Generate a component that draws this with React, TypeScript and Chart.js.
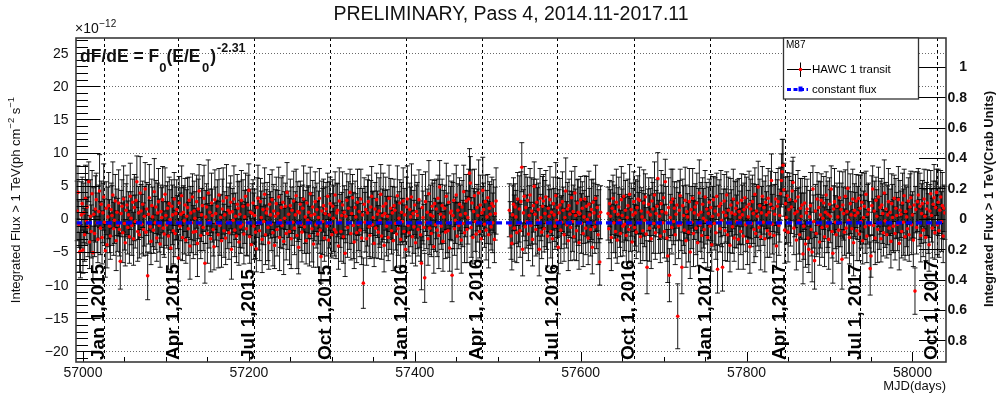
import { useEffect, useRef } from "react";
import { Chart, registerables } from "chart.js";
Chart.register(...registerables);

const FONT = '"Liberation Sans", Arial, Helvetica, sans-serif';

// axis ranges (flux in units of 1e-12 ph cm^-2 s^-1)
const X_MIN = 56991.6;
const X_MAX = 58040.4;
const Y_MIN = -21.6;
const Y_MAX = 27.3;
const CRAB_FLUX = 22.94; // 1 Crab unit in 1e-12 units

const titleText = "PRELIMINARY, Pass 4, 2014.11-2017.11";
const xTicks = [57000, 57200, 57400, 57600, 57800, 58000];
const yTicks = [-20, -15, -10, -5, 0, 5, 10, 15, 20, 25];
const crabTicks = [-0.8, -0.6, -0.4, -0.2, 0, 0.2, 0.4, 0.6, 0.8, 1];

const dateMjd = [57025, 57115, 57206, 57298, 57390, 57481, 57572, 57664, 57756, 57846, 57937, 58029];
const dateLabels = [
  "Jan 1,2015", "Apr 1,2015", "Jul 1,2015", "Oct 1,2015",
  "Jan 1,2016", "Apr 1, 2016", "Jul 1, 2016", "Oct 1, 2016",
  "Jan 1,2017", "Apr 1,2017", "Jul 1, 2017", "Oct 1, 2017",
];

const constantFlux = -0.6;

// ---- daily transits, segment A (first MJD 56993) ----
const startA = 56993;
const fluxA = [
  1.2, 4.0, -0.8, -5.0, -4.9, 0.6, 2.3, -4.7, 0.9, -2.4, 3.1, -0.3, 1.8, -1.2, 5.6, -3.5, 0.4, -1.9, 3.8, -5.1,
  0.7, -2.2, 1.5, 2.9, -0.6, -3.1, 1.1, 4.2, -1.4, 2.2, -2.8, 0.9, 3.3, -0.5, -4.8, 1.6, -3.9, 0.3, 2.0, -1.1,
  -2.6, 1.4, 0.5, 3.6, -1.5, -0.2, 2.7, -3.3, 1.0, -0.9, 2.4, -1.6, -6.4, 0.8, 1.9, -2.1, 3.0, -0.7, -3.6, 1.3,
  2.1, -1.3, 0.6, -2.7, 3.4, 0.1, -1.0, 2.5, -3.0, 1.7, -0.4, 2.8, 5.6, -1.9, 0.9, -2.4, 3.9, 1.2, -0.8, 2.2,
  -1.6, 0.4, 4.5, -2.0, 1.5, -8.6, 0.7, 3.2, -1.2, -3.4, 2.0, 0.3, -1.7, 4.1, -0.6, 1.8, -2.9, 0.9, 2.6, -1.0,
  -3.8, 1.1, 0.2, 2.9, -1.4, -2.3, 3.7, 0.5, -0.9, 1.6, -2.6, 2.3, -0.1, -4.4, 1.9, 0.6, -1.8, 3.0, -2.2, 0.8,
  1.4, -0.5, -5.9, 2.4, -1.1, 0.7, 3.5, -2.8, 1.0, -0.3, 2.1, -3.2, 0.4, 1.7, -1.5, 2.8, -4.1, 0.9, -0.6, 3.3,
  -2.0, 1.2, 0.1, -1.9, 2.6, -3.7, 1.5, 4.2, -0.8, -2.5, 0.6, 2.0, -1.3, 3.1, -6.7, 0.3, 1.8, -2.2, 3.9, -0.4,
  1.0, -3.0, 2.4, 0.5, -1.6, -4.2, 2.9, 0.8, -0.7, 1.9, -2.4, 3.6, -1.0, 0.2, -3.3, 1.5, 2.7, -1.8, 0.6, -2.9,
  3.2, -0.5, 1.3, -2.1, 0.9, 2.5, -4.6, 1.1, -0.2, 3.0, -1.7, 0.4, -2.6, 2.2, 1.6, -3.5, 0.7, -1.2, 2.8, -0.9,
  1.9, -2.3, 0.3, 3.4, -1.5, -0.6, 2.1, 4.3, -2.7, 1.0, -3.9, 0.8, 2.4, -1.1, 0.5, -2.0, -4.5, 1.7, 3.1, -0.7,
  -1.8, 2.6, 0.2, -3.1, 1.4, -0.4, 3.7, -2.4, 0.9, 1.5, -1.3, -3.6, 2.2, 0.6, -0.8, 2.9, -2.1, 1.2, -4.0, 0.4,
  2.3, -1.6, 0.8, 3.3, -2.8, -0.3, 1.7, -1.0, 2.5, -3.4, 0.1, 1.9, -2.2, 4.0, -0.6, 0.7, -1.9, 2.0, -3.0, 1.3,
  -0.5, 2.7, -1.4, 0.6, 3.5, -2.5, 1.1, -4.3, 0.9, 2.2, -0.8, -2.0, 1.6, 3.0, -1.2, 0.3, -3.3, 2.4, -0.2, 1.0,
  -2.6, 3.8, 0.5, -1.5, 1.8, -3.8, 0.7, 2.6, -0.9, 1.4, -2.3, 0.2, 3.1, -1.7, -5.7, 1.2, -0.4, 2.0, -2.9, 0.8,
  1.5, -1.1, 3.4, -3.2, 0.6, 2.3, -0.7, -2.4, 1.9, 0.1, -1.6, 3.6, -2.0, 0.9, 1.3, -4.1, 2.7, -0.3, -1.9, 0.5,
  2.1, -2.7, 1.0, -5.2, 0.4, 2.8, -1.3, 1.6, -0.6, 4.0, -2.2, 0.8, 3.2, -1.0, -3.5, 1.7, 0.3, -2.1, 2.5, -0.8,
  1.1, -1.7, 3.0, -2.9, 0.6, -9.7, 2.2, -0.5, 1.4, -3.0, 0.9, 2.6, -1.2, -2.5, 1.8, 3.4, -0.9, 0.2, -3.7, 1.5,
  -1.4, 2.9, 0.7, -2.0, 1.2, -0.3, 3.7, -2.6, 0.5, 1.9, -4.0, 0.8, 2.3, -1.1, 0.4, -2.8, 3.1, -0.6, 1.6, -1.8,
  0.9, -3.3, 2.0, 1.3, -0.7, -2.3, 3.5, -1.5, 0.1, 2.4, -3.1, 1.0, -0.4, 2.7, -1.9, 0.6, -4.6, 1.8, 3.0, -1.0,
  -2.1, 1.4, 0.3, 3.3, -2.7, 0.8, -1.2, 2.1, -3.6, 1.1, 0.5, -1.6, 2.9, -0.8, -2.4, -6.7, 1.7, 0.2, -1.3, -8.9,
  2.6, -0.5, 1.0, -3.0, 3.8, -1.4, 0.6, -2.2, 1.9, 0.4, -4.2, 2.3, -0.9, 1.5, -1.7, 3.1, -2.5, 4.8, 0.7, -1.1,
  2.0, -3.4, 0.3, 1.6, -2.0, 3.4, -0.6, -1.8, 2.5, -4.4, 0.9, 1.2, -8.5, 0.5, 2.8, -1.5, -0.2, 3.6, -2.6, 1.3,
  -1.0, 2.2, 0.6, -3.2, 1.8, -0.7, 4.1, -2.1, 0.8, 2.7, -1.6, 0.2, 3.0, 6.9, 5.4, -1.3, 2.4, -2.8, 1.1, 3.5,
  -0.4, -2.3, 1.7, 0.5, 3.9, -1.9, 2.1, -3.0, 0.9, 4.3, 1.4, -0.8, 2.6, -1.7, 0.3, 3.2, -2.4, 1.6, 0.7, -1.2,
  2.3, -0.6, 1.9, -3.1, 0.8, 2.7,
];
const errA = [
  4.5, 4, 3.5, 3, 4, 5, 4, 3.5, 4.5, 4, 5, 3.5, 4, 4.5, 3, 4, 5.5, 4, 3.5, 4,
  4, 3.5, 5, 4, 4.5, 3.5, 4, 5.5, 4, 3.5, 4, 4.5, 5, 3.5, 4, 4, 3.5, 4.5, 5, 4,
  3.5, 4, 4.5, 5, 4, 3.5, 4, 4.5, 3.5, 4, 5, 4, 4.2, 3.5, 4, 4.5, 5, 4, 3.5, 4,
  4.5, 4, 3.5, 4, 5, 4, 4.5, 3.5, 4, 5, 4, 3.5, 3.9, 4.5, 4, 3.5, 5.5, 4, 4.5, 3.5,
  4, 4.5, 4, 3.5, 4, 3.6, 4.5, 5, 4, 3.5, 4, 4.5, 3.5, 5, 4, 4, 3.5, 4.5, 5, 4,
  3.5, 4, 4.5, 5, 4, 3.5, 4, 4.5, 3.5, 4, 5, 4, 4.5, 3.5, 4, 4.5, 5, 4, 3.5, 4,
  4.5, 4, 3.5, 4, 5, 4, 4.5, 3.5, 4, 5, 4, 3.5, 4, 4.5, 4, 3.5, 5, 4, 4.5, 3.5,
  4, 4.5, 4, 3.5, 4, 5, 4.5, 4, 4, 3.5, 4, 4.5, 3.5, 5, 3, 4, 3.5, 4.5, 5, 4,
  3.5, 5, 4.5, 4, 4, 3.5, 4.5, 4, 3.5, 4, 5, 4, 4.5, 3.5, 4, 4.5, 5, 4, 3.5, 4,
  5, 4, 3.5, 4, 4.5, 4, 4.5, 3.5, 4, 5, 4, 3.5, 4, 4.5, 4, 3.5, 5, 4, 4.5, 3.5,
  4, 4.5, 4, 3.5, 4, 5, 4.5, 4, 4, 3.5, 4, 4.5, 3.5, 5, 4, 4, 3.5, 4.5, 5, 4,
  4.5, 3.5, 4, 5, 4, 3.5, 4, 4.5, 3.5, 4, 5, 4, 4.5, 3.5, 4, 4.5, 5, 4, 3.5, 4,
  4, 4, 3.5, 4.5, 5, 4, 4.5, 3.5, 4, 5, 4, 3.5, 4, 4.5, 4, 3.5, 5, 4, 4.5, 3.5,
  3.5, 4.5, 4, 3.5, 4, 5, 4.5, 4, 4, 3.5, 4, 4.5, 3.5, 5, 4, 4, 3.5, 4.5, 5, 4,
  4.5, 4, 3.5, 5, 4, 3.5, 4, 4.5, 3.5, 4, 5, 4, 4.5, 3.5, 4, 4.5, 5, 4, 3.5, 4,
  4, 4.5, 3.5, 4, 5, 4, 4.5, 3.5, 4, 5, 4, 3.5, 4, 4.5, 4, 3.5, 5, 4, 4.5, 3.5,
  5, 4, 4, 3.5, 4, 4, 4.5, 4, 4, 3.5, 4, 4.5, 3.5, 5, 4, 4, 3.5, 4.5, 5, 4,
  3.5, 4, 4.5, 4, 4, 3.8, 4, 4.5, 3.5, 4, 5, 4, 4.5, 3.5, 4, 4.5, 5, 4, 3.5, 4,
  4.5, 4, 3.5, 4, 5, 4, 4.5, 3.5, 4, 5, 4, 3.5, 4, 4.5, 4, 3.5, 5, 4, 4.5, 3.5,
  4, 4.5, 4, 3.5, 4, 5, 4.5, 4, 4, 3.5, 4, 4.5, 3.5, 5, 4, 4, 3.5, 4.5, 5, 4,
  3.5, 4, 4.5, 5, 4, 3.5, 4, 4.5, 3.5, 4, 5, 4, 4.5, 3.5, 4, 4, 5, 4, 3.5, 3.7,
  4.5, 4, 3.5, 4, 5, 4, 4.5, 3.5, 4, 5, 4, 3.5, 4, 4.5, 4, 3.5, 5, 4, 4.5, 3.5,
  4, 4.5, 4, 3.5, 4, 5, 4.5, 4, 4, 3.5, 4, 4.5, 4, 5, 4, 4, 3.5, 4.5, 5, 4,
  3.5, 4, 4.5, 5, 4, 3.5, 4, 4.5, 3.5, 4, 5, 4, 4.5, 3.7, 4, 4.5, 5, 4, 3.5, 4,
  4.5, 4, 3.5, 4, 5, 4, 4.5, 3.5, 4, 5, 4, 3.5, 4, 4.5, 4, 3.5, 5, 4, 4.5, 3.5,
  4, 4.5, 4, 3.5, 4, 5,
];

// ---- segment B (first MJD 57514) ----
const startB = 57514;
const fluxB = [
  1.3, -0.9, -2.6, -3.7, 0.6, 2.2, -1.4, 1.8, 0.3, -2.1, 3.0, -0.7, 1.5, -1.8, 2.6, 7.8, -4.6, 0.9, 3.4, -1.2,
  1.7, -0.4, 2.8, -2.3, 0.5, 3.6, -1.0, 1.2, -3.1, 2.0, 4.9, 0.7, -1.6, 2.5, -0.3, 1.4, -4.6, 3.1, 0.2, -2.0,
  1.9, 2.7, -1.5, 0.8, 3.3, -0.6, -2.6, 1.6, 0.4, 2.9, -1.9, 1.0, -3.0, 2.3, 0.6, -1.1, 3.5, -0.2, 1.7, -4.3,
  0.9, 2.1, -1.7, -0.5, 2.6, 1.3, -2.4, 0.2, 4.2, -0.9, 1.5, -3.3, 2.0, 0.7, -1.3, 3.2, -0.4, 1.1, -2.7, 3.9,
  0.5, -1.8, 2.4, 1.0, -3.6, 0.8, 2.9, -0.7, 1.6, -2.2, 0.3, 3.0, -1.4, 1.9, -0.1, -2.9, 2.2, 0.6, -1.6, 1.4,
  -4.3, 2.5, 0.9, -1.2, 3.1, -0.5, 1.7, -2.4, 0.4, -6.5, 1.0,
];
const errB = [
  4, 3.5, 3.5, 4, 4.5, 4, 5, 3.5, 4, 4.5, 4, 3.5, 5, 4, 4.5, 3.7, 4, 3.5, 4.5, 4,
  5, 4, 3.5, 4, 4.5, 4, 3.5, 5, 4, 4, 3.7, 4.5, 4, 3.5, 5, 4, 4, 4.5, 3.5, 4,
  4.5, 4, 3.5, 5, 4, 4, 4.5, 3.5, 4, 5, 4, 3.5, 4.5, 4, 4, 3.5, 5, 4, 4.5, 4,
  3.5, 4, 5, 4, 4.5, 3.5, 4, 4, 5, 3.5, 4, 4.5, 4, 3.5, 5, 4, 4.5, 4, 3.5, 4,
  4, 4.5, 3.5, 5, 4, 4, 3.5, 4.5, 4, 5, 4, 3.5, 4, 4.5, 3.5, 4, 5, 4, 4, 4.5,
  4, 3.5, 4.5, 4, 5, 4, 3.5, 4.5, 4, 3.5, 4,
];

// ---- segment C (first MJD 57633) ----
const startC = 57633;
const fluxC = [
  0.8, -1.5, 2.3, 0.4, -2.8, 1.6, 3.1, -0.6, 1.1, -1.9, 2.5, -3.2, 0.7, 1.8, -0.3, -2.2, 2.9, 0.5, -1.1, 3.4,
  -0.8, 1.3, -2.5, 0.2, 2.0, -1.6, 3.7, -0.9, 1.4, -3.5, 0.6, 2.6, -1.3, 0.9, -2.0, 1.7, 3.0, -0.5, 2.8, -2.7,
  1.2, 0.3, -1.8, 2.4, -0.2, 3.3, -2.3, -7.3, 1.0, 2.2, -1.4, 0.6, -3.0, 2.7, 1.5, -0.7, 3.6, -2.1, 0.8, 1.9,
  6.1, -1.2, 0.4, -2.6, 2.3, 1.1, -0.6, 3.2, -1.9, 5.6, 0.9, -2.9, -5.6, 1.7, -8.5, 0.2, 2.5, -1.3, 3.0, -0.4,
  1.6, -2.4, 0.7, 2.1, -14.7, -1.0, 1.3, 3.5, -0.8, -7.3, 2.0, 0.5, -1.7, 2.8, -3.3, 1.1, 0.3, -2.0, 2.6, -5.0,
  1.4, -0.5, 3.1, -2.2, 0.9, 1.8, -1.4, 2.4, -3.6, 0.6, 3.9, -0.9, 1.0, -2.5, 2.2, 0.1, -1.6, 3.3, -0.3, 1.5,
  -2.8, 0.8, 2.5, -1.1, 1.7, -3.9, 0.4, 2.9, -0.7, 1.2, -2.1, 3.4, -7.6, 0.6, 1.9, -1.5, 2.3, -0.2, -7.3, 1.0,
  2.7, -1.8, 0.5, 3.6, -2.4, 1.3, -0.6, -4.0, 2.1, 0.9, -1.2, 3.0, -2.9, 0.7, 1.6, -0.4, 2.4, -3.1, 1.1, 0.2,
  -1.9, 2.8, 0.6, -2.6, 1.4, 3.2, -0.9, 1.8, -3.4, 0.3, 2.2, -4.2, 1.5, -0.7, 2.6, 0.8, -1.6, 3.7, -2.2, 1.2,
  0.4, 4.8, -1.3, 2.0, -2.7, 0.9, 3.4, -0.5, 1.7, -3.0, 2.5, 0.6, -1.8, 3.1, 1.0, -2.3, 2.2, 5.8, -0.8, 1.6,
  -2.5, 0.7, 3.0, -4.1, 1.9, 2.6, -1.0, 0.5, 3.8, 5.8, 7.1, 8.1, 4.4, -1.7, 2.3, 0.2, 3.5, -2.0, 1.4, 2.9,
  -0.6, 1.8, 4.2, 5.5, -1.4, 0.8, 2.7, -3.2, 1.1, 3.3, -0.3, -2.4, 1.6, 0.4, 2.1, -5.3, -1.1, 2.4, -3.8, 0.9,
  1.5, -2.9, -4.6, 0.3, 2.0, -1.6, -5.0, 4.5, -0.4, -6.3, 1.2, -2.2, 3.0, -0.8, 1.7, -3.5, 0.6, 2.8, -1.3, 0.1,
  2.4, -2.7, 1.0, 3.6, -1.1, 0.7, -3.1, 2.2, 0.4, 4.5, -1.9, -5.2, 1.5, 2.6, -0.5, -2.4, 1.9, 0.3, -1.7, 3.2,
  -0.7, 1.4, -6.1, 2.1, 0.8, -2.0, 3.4, -1.4, 1.1, 4.6, -0.2, -2.8, 2.3, 0.6, -1.5, 3.0, -3.6, 1.3, 0.5, 2.7,
  -1.8, 0.9, 3.1, -2.3, 1.6, -0.4, 2.5, -3.3, 0.2, 1.9, -1.2, 3.7, -2.6, 0.7, 1.4, -0.9, -7.5, -5.6, 2.0, 4.5,
  -1.0, 1.2, -2.9, 2.8, 0.4, -1.6, 3.3, -0.6, 1.7, -3.0, 2.1, 0.8, -2.1, 3.9, -0.3, 1.5, -2.4, 0.6, 2.6, -1.4,
  1.0, -3.4, 2.3, 0.2, -1.1, 3.1, -2.2, 1.6, 0.5, -0.8, 2.9, -3.7, 1.3, 0.7, -1.9, 2.4, -0.5, 3.5, -2.7, 1.1,
  0.3, -1.5, 2.7, -2.4, 1.8, 3.2, -0.9, 0.6, -3.2, 2.1, -10.9, 1.4, -1.3, 2.6, 3.6, -0.6, 1.9, -2.5, 0.8, 2.3,
  -1.7, 3.0, 0.4, -2.8, 1.5, 2.4, -0.7, -3.9, 1.2, 3.8, 0.5, -1.4, 2.2, 3.2, -2.1, 1.7, 4.0, -0.9, 2.5, -1.8,
  1.3, 3.3, -0.4, 2.0, -2.6, 1.6, 0.9,
];
const errC = [
  4, 4.5, 3.5, 4, 5, 4, 3.5, 4.5, 4, 4, 5, 3.5, 4, 4.5, 4, 3.5, 5, 4, 4.5, 3.5,
  4, 4.5, 4, 3.5, 4, 5, 4.5, 4, 4, 3.5, 4, 4.5, 3.5, 5, 4, 4, 3.5, 4.5, 5, 4,
  3.5, 4, 4.5, 5, 4, 3.5, 4, 4, 3.5, 4, 5, 4, 4.5, 3.5, 4, 4.5, 5, 4, 3.5, 4,
  3.9, 4, 3.5, 4, 5, 4, 4.5, 3.5, 4, 3.4, 4, 3.5, 4, 4.5, 4, 3.5, 5, 4, 4.5, 3.5,
  4, 4.5, 4, 3.5, 4.9, 5, 4.5, 4, 4, 4, 4, 4.5, 3.5, 5, 4, 4, 3.5, 4.5, 5, 4,
  3.5, 4, 4.5, 5, 4, 3.5, 4, 4.5, 3.5, 4, 5, 4, 4.5, 3.5, 4, 4.5, 5, 4, 3.5, 4,
  4.5, 4, 3.5, 4, 5, 4, 4.5, 3.5, 4, 5, 4, 3.5, 3.6, 4.5, 4, 3.5, 5, 4, 3.6, 3.5,
  4, 4.5, 4, 3.5, 4, 5, 4.5, 4, 4, 3.5, 4, 4.5, 3.5, 5, 4, 4, 3.5, 4.5, 5, 4,
  3.5, 4, 4.5, 5, 4, 3.5, 4, 4.5, 3.5, 4, 5, 4, 4.5, 3.5, 4, 4.5, 5, 4, 3.5, 4,
  4.5, 3.9, 3.5, 4, 5, 4, 4.5, 3.5, 4, 5, 4, 3.5, 4, 4.5, 4, 3.5, 5, 4, 4.5, 3.5,
  4, 4.5, 4, 3.5, 4, 5, 4.5, 4, 4, 4, 4.9, 3.9, 4, 5, 4, 4, 3.5, 4.5, 5, 4,
  3.5, 4, 4.5, 3.8, 4, 3.5, 4, 4.5, 3.5, 4, 5, 4, 4.5, 3.5, 4, 4.5, 5, 4, 3.5, 4,
  4.5, 4, 3.5, 4, 5, 4, 4.5, 3.5, 4, 4.3, 4, 3.5, 4, 4.5, 4, 3.5, 5, 4, 4.5, 3.5,
  4, 4.5, 4, 3.5, 4, 5, 4.5, 4, 4, 3.5, 4, 4.5, 3.5, 5, 4, 4, 3.5, 4.5, 5, 4,
  3.5, 4, 4.5, 5, 4, 3.5, 4, 4.5, 3.5, 4, 5, 4, 4.5, 3.5, 4, 4.5, 5, 4, 3.5, 4,
  4.5, 4, 3.5, 4, 5, 4, 4.5, 3.5, 4, 5, 4, 3.5, 4, 4.5, 4, 3.5, 4, 3.2, 4.5, 3.5,
  4, 4.5, 4, 3.5, 4, 5, 4.5, 4, 4, 3.5, 4, 4.5, 3.5, 5, 4, 4, 3.5, 4.5, 5, 4,
  3.5, 4, 4.5, 5, 4, 3.5, 4, 4.5, 3.5, 4, 5, 4, 4.5, 3.5, 4, 4.5, 5, 4, 3.5, 4,
  4.5, 4, 3.5, 4, 5, 4, 4.5, 3.5, 4, 5, 3.5, 3.5, 4, 4.5, 4, 3.5, 5, 4, 4.5, 3.5,
  4, 4.5, 4, 3.5, 4, 5, 4.5, 4, 4, 3.5, 4, 4.5, 3.5, 5, 4, 4, 3.5, 4.5, 5, 4,
  3.5, 4, 4.5, 5, 4, 3.5, 4,
];

type Pt = { x: number; y: number; e: number };

function buildPoints(): Pt[] {
  const out: Pt[] = [];
  const segs: [number, number[], number[]][] = [
    [startA, fluxA, errA],
    [startB, fluxB, errB],
    [startC, fluxC, errC],
  ];
  for (const [start, flux, err] of segs) {
    flux.forEach((v, i) => out.push({ x: start + i, y: v, e: err[i] ?? 4 }));
  }
  return out;
}

function fmtLeft(v: number) {
  return v < 0 ? "\u2212" + Math.abs(v) : String(v);
}
function fmtCrab(v: number) {
  const a = Math.abs(v);
  return a < 1e-9 ? "0" : String(Math.round(a * 10) / 10);
}

const rootPlugin = {
  id: "rootStyle",
  beforeDatasetsDraw(chart: any) {
    const { ctx, chartArea: a, scales } = chart;
    const xs = scales.x;
    const ys = scales.y;
    ctx.save();
    // horizontal dotted grid
    ctx.strokeStyle = "#6a6a6a";
    ctx.lineWidth = 1;
    ctx.setLineDash([1, 2]);
    for (const v of yTicks) {
      const py = Math.round(ys.getPixelForValue(v)) + 0.5;
      ctx.beginPath();
      ctx.moveTo(a.left, py);
      ctx.lineTo(a.right, py);
      ctx.stroke();
    }
    // date dashed lines
    ctx.strokeStyle = "#000";
    ctx.setLineDash([3, 3]);
    for (const d of dateMjd) {
      const px = Math.round(xs.getPixelForValue(d)) + 0.5;
      ctx.beginPath();
      ctx.moveTo(px, a.top);
      ctx.lineTo(px, a.bottom);
      ctx.stroke();
    }
    ctx.setLineDash([]);
    // error bars
    const pts: Pt[] = chart.data.datasets[1].data;
    ctx.strokeStyle = "rgba(0,0,0,0.9)";
    ctx.lineWidth = 1;
    ctx.beginPath();
    for (const p of pts) {
      const px = xs.getPixelForValue(p.x);
      const y1 = ys.getPixelForValue(p.y + p.e);
      const y0 = ys.getPixelForValue(p.y - p.e);
      ctx.moveTo(px, y1);
      ctx.lineTo(px, y0);
      ctx.moveTo(px - 2.5, y1);
      ctx.lineTo(px + 2.5, y1);
      ctx.moveTo(px - 2.5, y0);
      ctx.lineTo(px + 2.5, y0);
    }
    ctx.stroke();
    ctx.restore();
  },
  afterDatasetsDraw(chart: any) {
    const { ctx, chartArea: a, scales } = chart;
    const xs = scales.x;
    const ys = scales.y;
    const cs = scales.y2;
    ctx.save();
    ctx.fillStyle = "#000";

    // date labels (vertical, bold)
    ctx.font = `bold 19px ${FONT}`;
    ctx.textAlign = "left";
    ctx.textBaseline = "alphabetic";
    dateMjd.forEach((d, i) => {
      const px = xs.getPixelForValue(d) + 0.5;
      ctx.save();
      ctx.translate(px, a.bottom - 2);
      ctx.rotate(-Math.PI / 2);
      ctx.fillText(dateLabels[i], 0, 0);
      ctx.restore();
    });

    // ticks
    ctx.strokeStyle = "#000";
    ctx.lineWidth = 1;
    ctx.beginPath();
    for (let v = Math.ceil(Y_MIN); v <= Math.floor(Y_MAX); v++) {
      const py = Math.round(ys.getPixelForValue(v)) + 0.5;
      const len = v % 5 === 0 ? 24 : 12;
      ctx.moveTo(a.left, py);
      ctx.lineTo(a.left + len, py);
    }
    for (let v = 57000; v <= X_MAX; v += 50) {
      const px = Math.round(xs.getPixelForValue(v)) + 0.5;
      const len = v % 200 === 0 ? 10 : 5;
      ctx.moveTo(px, a.bottom);
      ctx.lineTo(px, a.bottom - len);
    }
    for (const c of crabTicks) {
      const py = Math.round(cs.getPixelForValue(c)) + 0.5;
      ctx.moveTo(a.right, py);
      ctx.lineTo(a.right - 27, py);
    }
    ctx.stroke();

    // frame
    ctx.strokeStyle = "#3a3a3a";
    ctx.lineWidth = 1.6;
    ctx.strokeRect(a.left, a.top, a.right - a.left, a.bottom - a.top);

    // left tick labels
    ctx.fillStyle = "#111";
    ctx.font = `14px ${FONT}`;
    ctx.textAlign = "right";
    ctx.textBaseline = "middle";
    for (const v of yTicks) {
      ctx.fillText(fmtLeft(v), a.left - 7.5, ys.getPixelForValue(v) + 0.5);
    }
    // x tick labels
    ctx.textAlign = "center";
    ctx.textBaseline = "alphabetic";
    for (const v of xTicks) {
      ctx.fillText(String(v), xs.getPixelForValue(v), 377);
    }
    // crab tick labels
    ctx.font = `bold 14px ${FONT}`;
    ctx.textAlign = "right";
    ctx.textBaseline = "middle";
    for (const c of crabTicks) {
      ctx.fillText(fmtCrab(c), 967, cs.getPixelForValue(c) + 0.5);
    }

    // x axis title
    ctx.font = `13px ${FONT}`;
    ctx.textAlign = "right";
    ctx.textBaseline = "alphabetic";
    ctx.fillText("MJD(days)", a.right, 390);

    // main title
    ctx.font = `19.5px ${FONT}`;
    ctx.textAlign = "center";
    ctx.fillText(titleText, 511, 19.5);

    // x10^-12
    ctx.textAlign = "left";
    ctx.font = `14px ${FONT}`;
    ctx.fillText("\u00d710", 75, 33);
    const w10 = ctx.measureText("\u00d710").width;
    ctx.font = `10px ${FONT}`;
    ctx.fillText("\u221212", 75 + w10 + 0.5, 26.5);

    // formula
    let fx = 80;
    const big = `bold 17.5px ${FONT}`;
    const sub = `bold 13px ${FONT}`;
    const sup = `bold 12.5px ${FONT}`;
    const put = (t: string, f: string, by: number, gap = 0) => {
      ctx.font = f;
      ctx.fillText(t, fx, by);
      fx += ctx.measureText(t).width + gap;
    };
    put("dF/dE = F", big, 61.5);
    put("0", sub, 72);
    put("(E/E", big, 61.5, 1.5);
    put("0", sub, 72, 1);
    put(")", big, 61.5, 1);
    put("-2.31", sup, 51.5);

    // rotated axis titles
    const drawRot = (
      parts: { t: string; f: string; dy: number }[],
      bx: number,
      cy: number
    ) => {
      let total = 0;
      for (const p of parts) {
        ctx.font = p.f;
        total += ctx.measureText(p.t).width;
      }
      ctx.save();
      ctx.translate(bx, cy + total / 2);
      ctx.rotate(-Math.PI / 2);
      ctx.textAlign = "left";
      ctx.textBaseline = "alphabetic";
      let ox = 0;
      for (const p of parts) {
        ctx.font = p.f;
        ctx.fillText(p.t, ox, p.dy);
        ox += ctx.measureText(p.t).width;
      }
      ctx.restore();
    };
    const n13 = `13px ${FONT}`;
    const n9 = `9.5px ${FONT}`;
    drawRot(
      [
        { t: "Integrated Flux > 1 TeV(ph cm", f: n13, dy: 0 },
        { t: "\u22122", f: n9, dy: -6.5 },
        { t: " s", f: n13, dy: 0 },
        { t: "\u22121", f: n9, dy: -6.5 },
      ],
      20,
      200
    );
    drawRot([{ t: "Integrated Flux > 1 TeV(Crab Units)", f: `bold 13px ${FONT}`, dy: 0 }], 993, 199);

    // legend box
    const lx = 783.5, ly = 38, lw = 135, lh = 61;
    ctx.fillStyle = "#fff";
    ctx.fillRect(lx, ly, lw, lh);
    ctx.strokeStyle = "#333";
    ctx.lineWidth = 1.3;
    ctx.strokeRect(lx, ly, lw, lh);
    ctx.fillStyle = "#000";
    ctx.font = `10px ${FONT}`;
    ctx.textAlign = "left";
    ctx.textBaseline = "alphabetic";
    ctx.fillText("M87", 786, 48);
    // HAWC entry
    ctx.strokeStyle = "#000";
    ctx.lineWidth = 1;
    ctx.beginPath();
    ctx.moveTo(787, 69.5);
    ctx.lineTo(811, 69.5);
    ctx.moveTo(800.5, 62.5);
    ctx.lineTo(800.5, 77);
    ctx.stroke();
    ctx.fillStyle = "#ff0000";
    ctx.beginPath();
    ctx.arc(800.5, 69.5, 1.8, 0, Math.PI * 2);
    ctx.fill();
    ctx.fillStyle = "#000";
    ctx.font = `11.5px ${FONT}`;
    ctx.textBaseline = "middle";
    ctx.fillText("HAWC 1 transit", 812, 69.5);
    // constant flux entry
    ctx.strokeStyle = "#0000ff";
    ctx.lineWidth = 3;
    ctx.setLineDash([4, 2.5]);
    ctx.beginPath();
    ctx.moveTo(787, 89.5);
    ctx.lineTo(808, 89.5);
    ctx.stroke();
    ctx.setLineDash([]);
    ctx.fillStyle = "#0000ff";
    ctx.fillRect(798.5, 86.5, 4, 5);
    ctx.fillStyle = "#000";
    ctx.fillText("constant flux", 812, 89.5);

    ctx.restore();
  },
};

export default function App() {
  const ref = useRef<HTMLCanvasElement>(null);
  useEffect(() => {
    document.body.style.margin = "0";
    const canvas = ref.current;
    if (!canvas) return;
    const points = buildPoints();
    const chart = new Chart(canvas, {
      type: "scatter",
      data: {
        datasets: [
          {
            type: "line",
            label: "constant flux",
            data: [
              { x: X_MIN, y: constantFlux },
              { x: X_MAX, y: constantFlux },
            ],
            borderColor: "#0000ff",
            borderWidth: 3.2,
            borderDash: [6, 4],
            pointRadius: 0,
            fill: false,
            showLine: true,
            order: 0,
          } as any,
          {
            label: "HAWC 1 transit",
            data: points as any,
            pointRadius: 1.8,
            pointBackgroundColor: "#ff0000",
            pointBorderWidth: 0,
            pointBorderColor: "#ff0000",
            order: 1,
          },
        ],
      },
      options: {
        responsive: false,
        animation: false,
        events: [],
        layout: { padding: { left: 76, right: 52, top: 38, bottom: 40 } },
        plugins: {
          legend: { display: false },
          tooltip: { enabled: false },
          title: { display: false },
        },
        scales: {
          x: { type: "linear", min: X_MIN, max: X_MAX, display: false },
          y: { type: "linear", min: Y_MIN, max: Y_MAX, display: false },
          y2: {
            type: "linear",
            position: "right",
            min: Y_MIN / CRAB_FLUX,
            max: Y_MAX / CRAB_FLUX,
            display: false,
          },
        },
      },
      plugins: [rootPlugin as any],
    });
    return () => chart.destroy();
  }, []);
  return (
    <div style={{ width: 998, height: 402, background: "#fff" }}>
      <canvas ref={ref} width={998} height={402} style={{ display: "block", width: 998, height: 402 }} />
    </div>
  );
}
